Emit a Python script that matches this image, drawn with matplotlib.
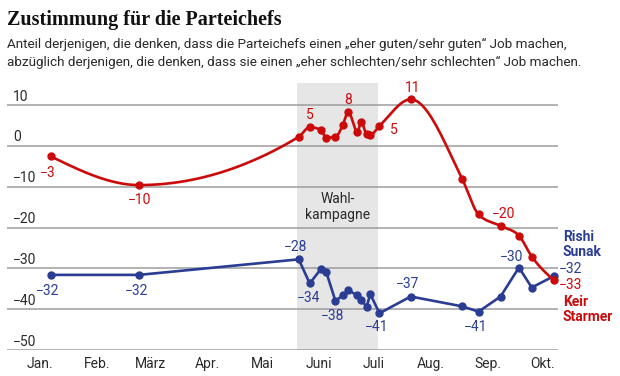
import numpy as np
import pandas as pd
import matplotlib
matplotlib.use("Agg")
import matplotlib.pyplot as plt

# Umfragedaten (2024)
dates = ["2024-01-07", "2024-02-24", "2024-05-21", "2024-05-27", "2024-06-02",
         "2024-06-05", "2024-06-10", "2024-06-14", "2024-06-17", "2024-06-22",
         "2024-06-24", "2024-06-27", "2024-06-29", "2024-07-04", "2024-07-21",
         "2024-08-18", "2024-08-27", "2024-09-08", "2024-09-18", "2024-09-25",
         "2024-10-07"]
starmer = [-2.6, -9.6, 2.2, 4.6, 3.9, 2.0, 2.2, 5.1, 8.3, 3.4, 5.9, 2.9, 2.7,
           4.9, 11.4, -8.0, -16.8, -19.6, -22.0, -27.1, -32.9]
sunak = [-31.6, -31.6, -27.8, -33.7, -30.2, -30.9, -38.0, -36.6, -35.4, -36.6,
         -37.7, -39.4, -36.3, -41.0, -36.9, -39.3, -40.6, -36.9, -29.8, -34.7,
         -31.9]
campaign = ("2024-05-20", "2024-07-03")
month_starts = ["2024-01-01", "2024-02-01", "2024-03-01", "2024-04-01",
                "2024-05-01", "2024-06-01", "2024-07-01", "2024-08-01",
                "2024-09-01", "2024-10-01"]
month_labels = ["Jan.", "Feb.", "März", "Apr.", "Mai", "Juni", "Juli", "Aug.",
                "Sep.", "Okt."]
yticks = [10, 0, -10, -20, -30, -40, -50]

# beschriftete Punkte: Index -> (dx, dy) Versatz in Pixeln
starmer_lab = {0: (-3, -17), 1: (0, -15), 3: (0, 12), 8: (0, 12), 13: (10, -4),
               14: (2, 11), 17: (3, 12)}
sunak_lab = {0: (-3, -16), 1: (-3, -16), 2: (-3, 12), 3: (-1, -15),
             6: (-3, -15), 13: (-3, -14), 14: (-3, 13), 16: (-3, -15),
             18: (-7, 11)}

RED = "#cc0a0a"
BLUE = "#2a3d93"
TXT = "#2a2a2a"
FONT = ["Roboto", "DejaVu Sans"]
plt.rcParams["font.family"] = FONT
FS = 10

t0 = pd.Timestamp("2024-01-01")


def to_day(d):
    return (pd.to_datetime(d) - t0) / pd.Timedelta(days=1)


x = np.asarray(to_day(dates), dtype=float)


def monotone(xs, ys, n=24):
    # monotone kubische Kurve wie d3.curveMonotoneX
    xs = np.asarray(xs, float)
    ys = np.asarray(ys, float)
    h = np.diff(xs)
    s = np.diff(ys) / h
    t = np.zeros(len(xs))
    for i in range(1, len(xs) - 1):
        if s[i - 1] * s[i] <= 0:
            t[i] = 0
        else:
            p = (s[i - 1] * h[i] + s[i] * h[i - 1]) / (h[i - 1] + h[i])
            t[i] = (np.sign(s[i - 1]) + np.sign(s[i])) * min(abs(s[i - 1]), abs(s[i]), 0.5 * abs(p))
    t[0] = (3 * s[0] - t[1]) / 2
    t[-1] = (3 * s[-1] - t[-2]) / 2
    px, py = [], []
    for i in range(len(h)):
        u = np.linspace(0, 1, n, endpoint=False)
        h00 = 2 * u**3 - 3 * u**2 + 1
        h10 = u**3 - 2 * u**2 + u
        h01 = -2 * u**3 + 3 * u**2
        h11 = u**3 - u**2
        px.append(xs[i] + u * h[i])
        py.append(h00 * ys[i] + h10 * h[i] * t[i] + h01 * ys[i + 1] + h11 * h[i] * t[i + 1])
    px.append([xs[-1]])
    py.append([ys[-1]])
    return np.concatenate(px), np.concatenate(py)


W, H = 620, 376
fig = plt.figure(figsize=(W / 100, H / 100), dpi=100)
ax = fig.add_axes([7 / W, 1 - 350 / H, 551 / W, (350 - 83) / H])
ax.set_xlim(-18, 282.3)
ax.set_ylim(-50, 15.4)
for sp in ax.spines.values():
    sp.set_visible(False)

c0, c1 = to_day(campaign[0]), to_day(campaign[1])
ax.axvspan(c0, c1, color="#e6e6e6", zorder=0, lw=0)
ax.text((c0 + c1) / 2, -15, "Wahl-\nkampagne", ha="center", va="center",
        fontsize=FS, color=TXT, linespacing=1.15)

for v in yticks:
    ax.axhline(v, color="#9c9c9c", lw=1.1, zorder=1)
    ax.annotate(str(v).replace("-", "\u2212"), (0, v), xycoords=("axes fraction", "data"),
                xytext=(6, 1.5), textcoords="offset pixels", ha="left", va="bottom",
                fontsize=FS, color=TXT)

ax.set_yticks([])
ax.set_xticks(to_day(month_starts))
ax.set_xticklabels(month_labels, fontsize=FS, color=TXT)
ax.tick_params(axis="x", length=0, pad=5)

# Sunak: gerade Linien
ax.plot(x, sunak, color=BLUE, lw=1.9, marker="o", ms=5, zorder=3,
        solid_joinstyle="round")
# Starmer: geglättete Linie
sx, sy = monotone(x, starmer)
ax.plot(sx, sy, color=RED, lw=1.9, zorder=4, solid_capstyle="round")
ax.plot(x, starmer, "o", color=RED, ms=5, zorder=4)


def lab(val):
    return str(int(round(val))).replace("-", "\u2212")


for i, (dx, dy) in starmer_lab.items():
    ax.annotate(lab(starmer[i]), (x[i], starmer[i]), xytext=(dx, dy),
                textcoords="offset pixels", ha="left" if dx > 5 else "center",
                va="center", fontsize=FS, color=RED)
for i, (dx, dy) in sunak_lab.items():
    ax.annotate(lab(sunak[i]), (x[i], sunak[i]), xytext=(dx, dy),
                textcoords="offset pixels", ha="center", va="center",
                fontsize=FS, color=BLUE)

# Endwerte und Namen rechts
ax.annotate(lab(sunak[-1]), (x[-1], sunak[-1]), xytext=(5, 7), textcoords="offset pixels",
            ha="left", va="center", fontsize=FS, color=BLUE, annotation_clip=False)
ax.annotate(lab(starmer[-1]), (x[-1], starmer[-1]), xytext=(5, -5), textcoords="offset pixels",
            ha="left", va="center", fontsize=FS, color=RED, annotation_clip=False)
ax.annotate("Rishi\nSunak", (x[-1], sunak[-1]), xytext=(9, 32), textcoords="offset pixels",
            ha="left", va="center", fontsize=FS, fontweight="bold", color=BLUE,
            linespacing=1.1, annotation_clip=False)
ax.annotate("Keir\nStarmer", (x[-1], starmer[-1]), xytext=(9, -29), textcoords="offset pixels",
            ha="left", va="center", fontsize=FS, fontweight="bold", color=RED,
            linespacing=1.1, annotation_clip=False)

fig.text(7 / W, 1 - 25 / H, "Zustimmung für die Parteichefs", ha="left", va="baseline",
         fontsize=14.5, fontweight="bold", family="Liberation Serif", color="#111111")
fig.text(7 / W, 1 - 48 / H,
         "Anteil derjenigen, die denken, dass die Parteichefs einen „eher guten/sehr guten“ Job machen,",
         ha="left", va="baseline", fontsize=9.7, color=TXT)
fig.text(7 / W, 1 - 66 / H,
         "abzüglich derjenigen, die denken, dass sie einen „eher schlechten/sehr schlechten“ Job machen.",
         ha="left", va="baseline", fontsize=9.7, color=TXT)

fig.savefig("out.png", dpi=100)
